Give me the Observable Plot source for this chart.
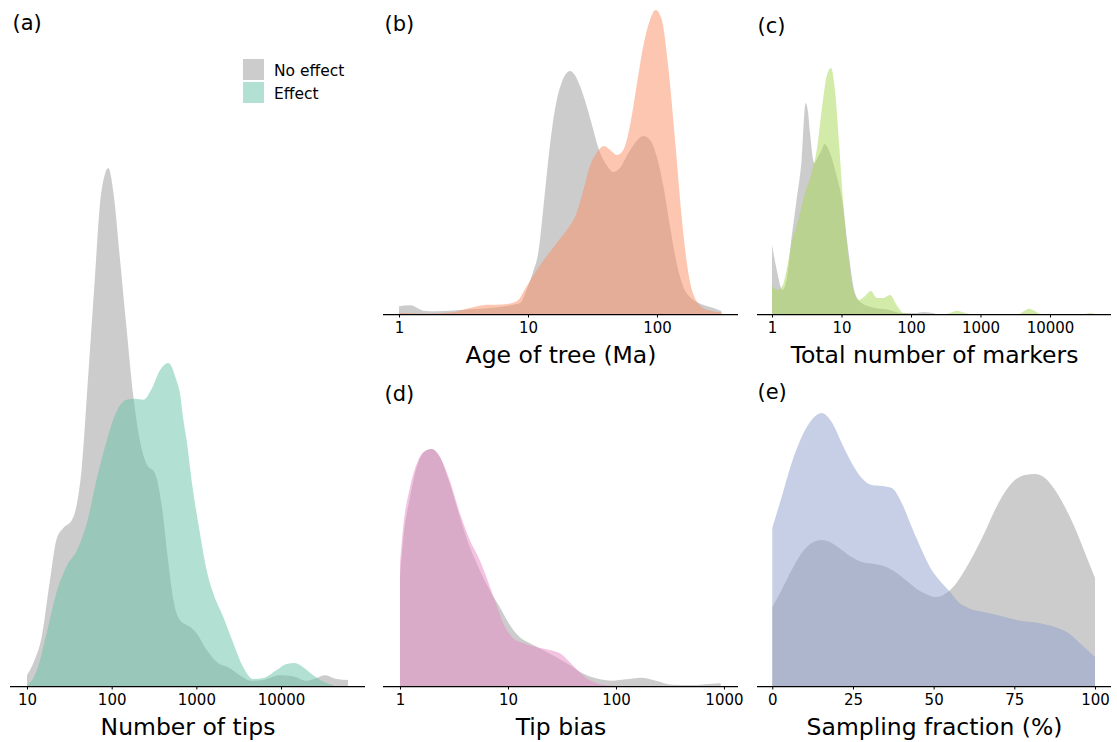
<!DOCTYPE html>
<html><head><meta charset="utf-8">
<script src="https://cdn.jsdelivr.net/npm/d3@7"></script>
<script src="https://cdn.jsdelivr.net/npm/@observablehq/plot@0.6"></script>
<style>
html,body{margin:0;padding:0;background:#fff;}
#fig{position:relative;width:1117px;height:742px;overflow:hidden;font-family:"DejaVu Sans";}
#fig > svg{position:absolute;}
.leg{position:absolute;font-family:"DejaVu Sans";font-size:15.5px;color:#000;}
.sw{position:absolute;width:21px;height:21px;}
</style></head><body><div id="fig"></div>
<script>
// ---------- data: [value, density] ----------
// (a) Number of tips (density per log10 unit)
const tipsNoEffect = [[10,0.023],[11.9,0.049],[14.9,0.104],[18.6,0.223],[22.4,0.313],[26.9,0.336],[33.9,0.353],[38.6,0.385],[44.3,0.464],[53,0.664],[63.1,0.864],[72.8,1.026],[83.2,1.089],[91.2,1.102],[105,1.049],[126,0.904],[150,0.760],[180,0.617],[216,0.521],[259,0.472],[324,0.453],[389,0.385],[466,0.264],[533,0.185],[640,0.140],[767,0.130],[839,0.126],[1000,0.113],[1320,0.077],[1740,0.051],[2490,0.038],[3270,0.023],[4470,0.011],[6170,0.013],[9700,0.023],[13800,0.021],[20000,0.011],[26300,0.017],[33100,0.023],[45300,0.015],[61700,0.013]];
const tipsEffect = [[10,0],[13,0.032],[17.1,0.113],[22.4,0.200],[29.4,0.255],[38.6,0.287],[50.7,0.345],[66.5,0.440],[87.1,0.521],[115,0.585],[150,0.609],[188,0.611],[236,0.609],[296,0.632],[372,0.672],[466,0.687],[585,0.649],[640,0.623],[700,0.568],[767,0.523],[912,0.417],[1100,0.326],[1320,0.247],[1580,0.198],[2080,0.147],[2730,0.091],[3580,0.040],[4680,0.015],[6170,0.017],[8870,0.034],[11600,0.047],[14600,0.049],[18200,0.040],[24000,0.023],[31600,0.009],[41300,0.002]];
// (b) Age of tree (Ma)
const ageNoEffect = [[1.0,0.042],[1.22,0.047],[1.55,0.018],[1.95,0.015],[3.16,0.023],[5.07,0.032],[7.69,0.050],[8.67,0.059],[9.75,0.130],[11.0,0.232],[12.0,0.330],[13.2,0.584],[14.2,0.800],[15.2,0.978],[16.7,1.157],[18.2,1.249],[21.2,1.314],[23.1,1.292],[25.3,1.232],[28.5,1.124],[32.1,0.995],[35.1,0.897],[40.7,0.805],[45.7,0.768],[51.6,0.789],[60.0,0.870],[69.5,0.935],[78.3,0.962],[88.3,0.941],[99.3,0.854],[112,0.692],[126,0.476],[142,0.276],[160,0.146],[180,0.092],[203,0.065],[243,0.043],[274,0.032],[316,0.016]];
const ageEffect = [[1.0,0.005],[1.74,0.002],[2.63,0.009],[3.55,0.032],[4.79,0.050],[6.46,0.052],[8.18,0.069],[9.77,0.150],[11.7,0.238],[14.0,0.314],[16.7,0.384],[20.0,0.454],[23.8,0.546],[26.9,0.670],[30.2,0.800],[34.0,0.870],[38.9,0.908],[43.3,0.886],[48.8,0.859],[54.8,0.886],[61.7,1.016],[69.5,1.232],[78.3,1.449],[88.3,1.589],[97.7,1.643],[109,1.589],[122,1.341],[138,0.941],[155,0.530],[175,0.222],[203,0.069],[243,0.023],[316,0.009]];
// (c) Total number of markers
const markersNoEffect = [[1.0,0.511],[1.17,0.326],[1.41,0.178],[1.62,0.252],[1.92,0.575],[2.26,0.847],[2.67,1.143],[3.05,1.563],[3.31,1.489],[3.52,1.341],[4.06,1.119],[4.65,1.170],[5.19,1.215],[5.66,1.259],[6.84,1.193],[8.51,1.022],[10.2,0.844],[12.5,0.474],[15.6,0.156],[19.5,0.081],[27.2,0.050],[47.2,0.032],[73.5,0.007],[114,0.007],[151,0.015],[224,0.002]];
const markersEffect = [[1.0,0.207],[1.21,0.178],[1.41,0.207],[1.62,0.326],[1.92,0.526],[2.39,0.696],[2.99,0.896],[3.72,1.044],[4.40,1.215],[5.19,1.511],[6.12,1.763],[7.06,1.822],[8.05,1.659],[9.20,1.267],[10.6,0.822],[12.5,0.430],[14.8,0.178],[17.9,0.104],[21.8,0.133],[26.5,0.170],[32.1,0.119],[39.8,0.119],[49.9,0.141],[62.2,0.067],[77.6,0.007],[102,0],[316,0],[380,0.011],[457,0.024],[575,0.011],[708,0],[3550,0],[4270,0.022],[5010,0.039],[6030,0.022],[7240,0],[31600,0],[38000,0.007],[42700,0.004]];
// (d) Tip bias
const biasNoEffect = [[1.0,0.589],[1.07,0.789],[1.24,1.022],[1.43,1.184],[1.64,1.259],[1.96,1.281],[2.34,1.238],[2.88,1.097],[3.58,0.914],[4.43,0.751],[5.47,0.627],[6.76,0.519],[8.37,0.427],[10.4,0.330],[12.8,0.265],[15.8,0.232],[21.0,0.195],[27.9,0.157],[37.2,0.114],[49.0,0.069],[65.3,0.042],[93.3,0.029],[123,0.036],[170,0.045],[234,0.029],[331,0.007],[513,0.005],[724,0.011],[933,0.015]];
const biasEffect = [[1.0,0.665],[1.07,0.859],[1.24,1.076],[1.48,1.222],[1.76,1.276],[1.96,1.281],[2.34,1.238],[2.88,1.114],[3.58,0.935],[4.43,0.789],[5.47,0.681],[6.31,0.589],[7.53,0.465],[9.0,0.341],[11.1,0.259],[13.7,0.232],[18.2,0.211],[24.3,0.195],[30.0,0.178],[37.2,0.130],[45.7,0.076],[56.8,0.032],[70.1,0.011],[93.3,0.002]];
// (e) Sampling fraction (%)
const fracNoEffect = [[0,0.00527],[2.9,0.0064],[6,0.00773],[9.1,0.00887],[12.2,0.00953],[15.3,0.00973],[18.4,0.00953],[21.5,0.00907],[24.6,0.0086],[27.7,0.00827],[31.8,0.00813],[36,0.00787],[39,0.00747],[42.1,0.00693],[45.2,0.0064],[48.3,0.00607],[50.9,0.00593],[53.5,0.00613],[56.6,0.00673],[59.7,0.00773],[62.8,0.00893],[65.9,0.01027],[69,0.01173],[72.1,0.01293],[75.2,0.01373],[78.3,0.01407],[81.4,0.01413],[84.5,0.01387],[87.6,0.01307],[90.7,0.01193],[93.8,0.01053],[96.9,0.00887],[100,0.0072]];
const fracEffect = [[0,0.01053],[2.9,0.0126],[6,0.01487],[9.1,0.0166],[12.2,0.01773],[15.3,0.0182],[18.4,0.0176],[21.5,0.0162],[24.6,0.01487],[27.7,0.01387],[30.8,0.0134],[33.9,0.01333],[37,0.0132],[40.1,0.0122],[43.2,0.0106],[46.3,0.00907],[49.4,0.00773],[52.5,0.00687],[55.1,0.00627],[57.6,0.0056],[60.7,0.0052],[66.9,0.00487],[72.1,0.0046],[77.3,0.00433],[82.4,0.0042],[87.6,0.00393],[91.7,0.00353],[95.9,0.00273],[100,0.00193]];

const tipsTicks = [10, 100, 1000, 10000];
const ageTicks = [1, 10, 100];
const markersTicks = [1, 10, 100, 1000, 10000];
const biasTicks = [1, 10, 100, 1000];
const fracTicks = [0, 25, 50, 75, 100];
const legendLabels = ["No effect", "Effect"];

// ---------- styles ----------
const GREY = "#999999";
const FONT = "DejaVu Sans";
const fig = document.getElementById("fig");

function panel(cfg) {
  const marks = [];
  for (const s of cfg.series) {
    marks.push(Plot.areaY(s.data, {x: d => d[0], y: d => d[1], fill: s.color, fillOpacity: 0.5, curve: "monotone-x"}));
  }
  marks.push(Plot.ruleY([0], {stroke: "black", strokeWidth: 1.25}));
  marks.push(Plot.axisX({ticks: cfg.ticks, tickFormat: d => String(d), tickSize: 3.5, tickPadding: 4, fontSize: 15, label: null, stroke: "black", fill: "black"}));
  marks.push(Plot.text([cfg.title], {frameAnchor: "bottom", dy: 41, fontSize: 23.5, lineAnchor: "middle", fill: "black"}));
  marks.push(Plot.text([cfg.letter], {frameAnchor: "top-left", textAnchor: "start", dx: cfg.letterDx, dy: cfg.letterDy, fontSize: 21, lineAnchor: "middle", fill: "black"}));
  const svg = Plot.plot({
    width: cfg.width, height: cfg.height,
    marginLeft: cfg.mL, marginRight: cfg.mR, marginTop: 0, marginBottom: 56,
    x: {type: cfg.xType, domain: cfg.xDomain, label: null},
    y: {domain: [0, cfg.yMax], axis: null},
    style: {fontFamily: FONT, background: "transparent", overflow: "visible", color: "black"},
    marks
  });
  svg.style.left = cfg.left + "px";
  svg.style.top = cfg.top + "px";
  fig.appendChild(svg);
}

panel({left: 0, top: 0, width: 372, height: 742, mL: 10, mR: 7, xType: "log", xDomain: [6.3, 98000], yMax: 1.4596,
  ticks: tipsTicks, title: "Number of tips", letter: "(a)", letterDx: 2, letterDy: 23,
  series: [{data: tipsNoEffect, color: GREY}, {data: tipsEffect, color: "#66c2a5"}]});
panel({left: 370, top: 0, width: 380, height: 370, mL: 13, mR: 12, xType: "log", xDomain: [0.7515, 424.6], yMax: 1.6973,
  ticks: ageTicks, title: "Age of tree (Ma)", letter: "(b)", letterDx: 1, letterDy: 24,
  series: [{data: ageNoEffect, color: GREY}, {data: ageEffect, color: "#fc8d62"}]});
panel({left: 745, top: 0, width: 372, height: 370, mL: 12, mR: 6, xType: "log", xDomain: [0.608, 75500], yMax: 2.3259,
  ticks: markersTicks, title: "Total number of markers", letter: "(c)", letterDx: 0, letterDy: 26,
  series: [{data: markersNoEffect, color: GREY}, {data: markersEffect, color: "#a6d854"}]});
panel({left: 370, top: 370, width: 380, height: 372, mL: 13, mR: 12, xType: "log", xDomain: [0.696, 1349], yMax: 1.708,
  ticks: biasTicks, title: "Tip bias", letter: "(d)", letterDx: 1, letterDy: 24,
  series: [{data: biasNoEffect, color: GREY}, {data: biasEffect, color: "#e78ac3"}]});
panel({left: 745, top: 370, width: 372, height: 372, mL: 12, mR: 6, xType: "linear", xDomain: [-4.74, 104.96], yMax: 0.021067,
  ticks: fracTicks, title: "Sampling fraction (%)", letter: "(e)", letterDx: 0, letterDy: 22,
  series: [{data: fracNoEffect, color: GREY}, {data: fracEffect, color: "#8da0cb"}]});

// legend for panel (a)
const legColors = [GREY, "#66c2a5"];
legendLabels.forEach((lab, i) => {
  const sw = document.createElement("div");
  sw.className = "sw";
  sw.style.left = "243px"; sw.style.top = (59 + i * 23) + "px";
  sw.style.background = legColors[i]; sw.style.opacity = 0.5;
  fig.appendChild(sw);
  const t = document.createElement("div");
  t.className = "leg";
  t.textContent = lab;
  t.style.left = "274px"; t.style.top = (59 + i * 23 + 3) + "px";
  t.style.lineHeight = "19px";
  fig.appendChild(t);
});
</script></body></html>
